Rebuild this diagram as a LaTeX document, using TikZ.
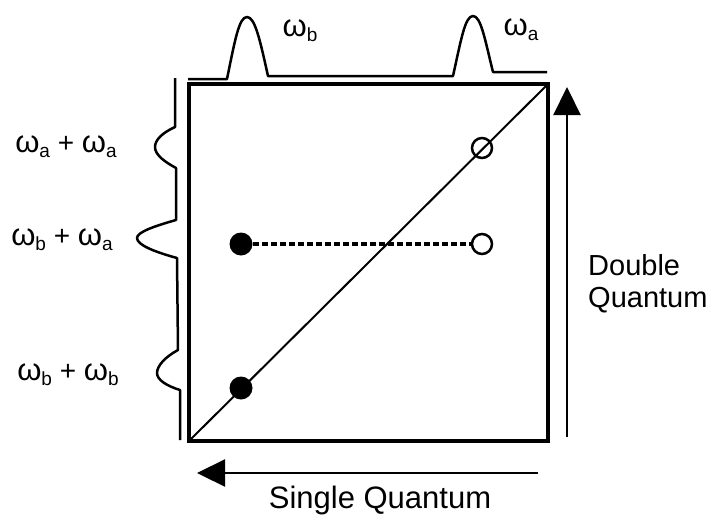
\documentclass[tikz,border=0pt]{standalone}
\usepackage{fontspec}
\setmainfont{Liberation Sans}
\usetikzlibrary{arrows.meta, positioning}

\newcommand{\omsub}[1]{{\fontsize{31}{31}\selectfont ω}\raisebox{-5pt}{\fontsize{19}{19}\selectfont #1}}

\begin{document}
\begin{tikzpicture}[
  x=1pt, y=-1pt,
  spec/.style={line width=2.5pt, line join=round},
  frame/.style={draw, line width=4pt},
  diag/.style={line width=2pt},
  peak/.style={font=\fontsize{28}{28}\selectfont, inner sep=0pt},
  full/.style={circle, fill=black, minimum size=23pt, inner sep=0pt},
  empty/.style={circle, draw, line width=2.5pt, minimum size=20pt, inner sep=0pt},
  link/.style={line width=3.5pt, dash pattern=on 6pt off 3pt},
  axis/.style={line width=2.2pt, -{Triangle[length=28pt, width=27pt]}},
  lab/.style={font=\fontsize{31}{33}\selectfont, align=left, inner sep=0pt}
]
\useasboundingbox (0,0) rectangle (726,517);

% 2D map
\coordinate (bl) at (189,441);
\coordinate (tr) at (548,84);
\draw[frame] (bl) rectangle (tr);
\draw[diag] (bl) -- (tr);

\node[full] (bb) at (241,388) {};
\node[full] (ba) at (241,244) {};
\node[empty] (aa) at (482,148) {};
\node[empty] (ab) at (482,244) {};
\draw[link] (ba) -- (ab);

% projections
\draw[spec] (188,79) -- (227,79) .. controls (235,40) and (239,17) .. (247,17)
  .. controls (255,17) and (260,40) .. (268,76) -- (453,76)
  .. controls (461,40) and (465,16) .. (473,16)
  .. controls (481,16) and (485,40) .. (493,72) -- (547,72);
\draw[spec] (175,78) -- (175,127) .. controls (162,133) and (155,140) .. (155,147)
  .. controls (155,155) and (165,162) .. (176,168) -- (176,220)
  .. controls (155,226) and (137,232) .. (137,238)
  .. controls (137,245) and (155,252) .. (177,258) -- (178,350)
  .. controls (165,357) and (157,366) .. (157,373)
  .. controls (157,380) and (167,386) .. (180,390) -- (180,440);

\node[peak] (pb) at (300,31) {\omsub{b}};
\node[peak] (pa) at (521,30) {\omsub{a}};
\node[peak] (paa) at (66,147) {\omsub{a} + \omsub{a}};
\node[peak] (pba) at (62,240) {\omsub{b} + \omsub{a}};
\node[peak] (pbb) at (68,375) {\omsub{b} + \omsub{b}};

% axes
\coordinate (sqs) at (538,473);
\coordinate (sqe) at (197,473);
\draw[axis] (sqs) -- (sqe);
\node[lab] (sq) at (380,500) {Single Quantum};
\coordinate (dqs) at (567,437);
\coordinate (dqe) at (567,87);
\draw[axis] (dqs) -- (dqe);
\node[lab, font=\fontsize{29}{32}\selectfont, anchor=west] (dq) at (588,284) {Double\\Quantum};
\end{tikzpicture}
\end{document}
